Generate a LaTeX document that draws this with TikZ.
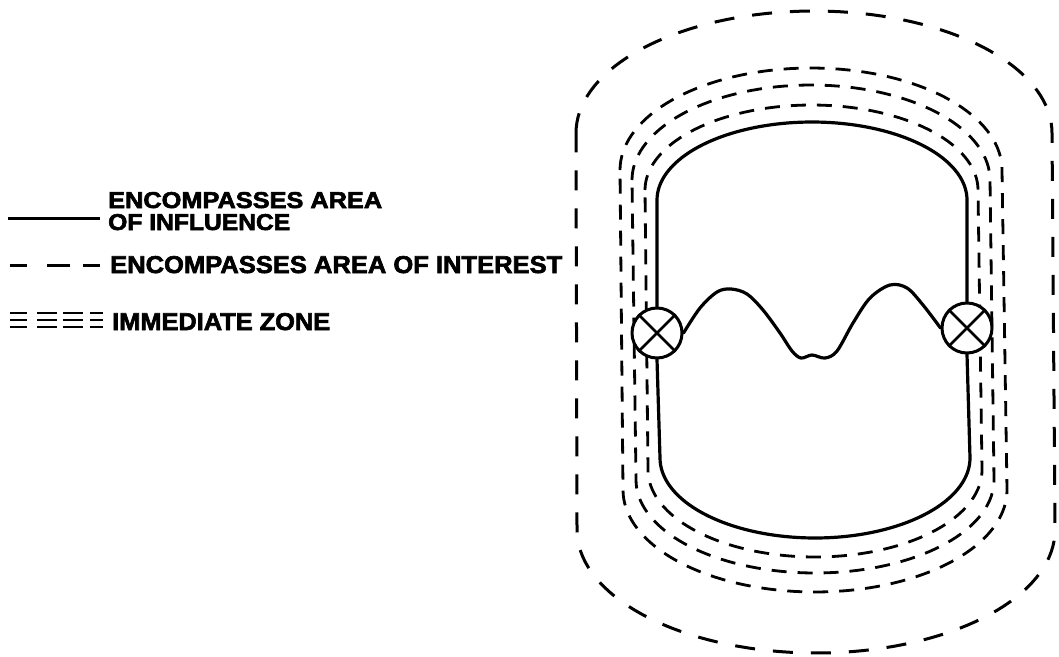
\documentclass[tikz,border=0pt]{standalone}
\usepackage{fontspec}
\setmainfont{Liberation Sans}
\newfontfamily\heavyfont{Liberation Sans}[UprightFont=*-Bold, UprightFeatures={FakeBold=2.5}]
\usepackage{graphicx}
\tikzset{
  heavy/.style={line width=3.2pt, line cap=round, line join=round},
  interest/.style={line width=3pt, dash pattern=on 20pt off 18pt},
  zone/.style={line width=2.8pt, dash pattern=on 15pt off 11pt},
  lamp/.style={circle, draw, line width=3pt, minimum size=50pt, inner sep=0pt, fill=white},
  legend/.style={anchor=base west, inner sep=0pt, font=\heavyfont},
}
% stadium: style, LT, RT, cyT, ryT, LB, RB, cyB, ryB
\newcommand\stadshape[9]{%
  \draw[#1] (#2,#4)
    -- plot[domain=180:360, samples=72] ({(#2+#3)/2+(#3-#2)/2*cos(\x)}, {#4+#5*sin(\x)})
    -- (#7,#8)
    -- plot[domain=0:180, samples=72] ({(#6+#7)/2+(#7-#6)/2*cos(\x)}, {#8+#9*sin(\x)})
    -- cycle;}
\newcommand\capsbox[3]{\resizebox{#1pt}{#2pt}{#3}}
\begin{document}
\begin{tikzpicture}[x=1pt, y=-1pt]
\useasboundingbox (0,0) rectangle (1059,656);

% area of interest (outer dashed)
\stadshape{interest}{576}{1052}{133}{122}{577}{1055}{530}{123}
% immediate zone (three dashed)
\stadshape{zone}{645}{978}{190}{85}{648}{982}{470}{87}
\stadshape{zone}{632}{990}{180}{95}{636}{994}{480}{93}
\stadshape{zone}{620}{1002}{170}{102}{623}{1007}{490}{102}

% lamps
\node[lamp] (lampL) at (657,333) {};
\node[lamp] (lampR) at (967,328) {};
\draw[line width=2.6pt] (lampL.45) -- (lampL.225) (lampL.135) -- (lampL.315);
\draw[line width=2.6pt] (lampR.45) -- (lampR.225) (lampR.135) -- (lampR.315);

% area of influence (solid)
\draw[heavy] (lampL.north) -- (657,200)
  -- plot[domain=180:360, samples=72] ({812+155*cos(\x)}, {200+78*sin(\x)})
  -- (lampR.north);
\draw[heavy] (lampR.south) -- (970,458)
  -- plot[domain=0:180, samples=72] ({815+155*cos(\x)}, {458+80*sin(\x)})
  -- (lampL.south);

% wave between lamps
\draw[heavy] plot[smooth, tension=0.55] coordinates {(lampL.east) (700,308) (717,292) (731,289) (747,294) (763,310) (780,333) (792,351) (801,358) (812,355) (825,358) (837,351) (853,323) (870,298) (890,285) (907,288) (923,305) (lampR.west)};

% legend
\draw[line width=3pt] (8,218) -- (100,218);
\draw[line width=3pt] (10,265) -- (27,265) (47,265) -- (70,265) (83,265) -- (100,265);
\foreach \a/\b in {10/27, 37/57, 63/83, 90/103}
  \foreach \yy in {313,320,327}
    \draw[line width=2.4pt] (\a,\yy) -- (\b,\yy);

\node[legend] (t1) at (108,208) {\capsbox{274}{16}{ENCOMPASSES AREA}};
\node[legend] (t2) at (108,230) {\capsbox{182}{16}{OF INFLUENCE}};
\node[legend] (t3) at (110,273) {\capsbox{452}{17}{ENCOMPASSES AREA OF INTEREST}};
\node[legend] (t4) at (112,330) {\capsbox{218}{17}{IMMEDIATE ZONE}};
\end{tikzpicture}
\end{document}
